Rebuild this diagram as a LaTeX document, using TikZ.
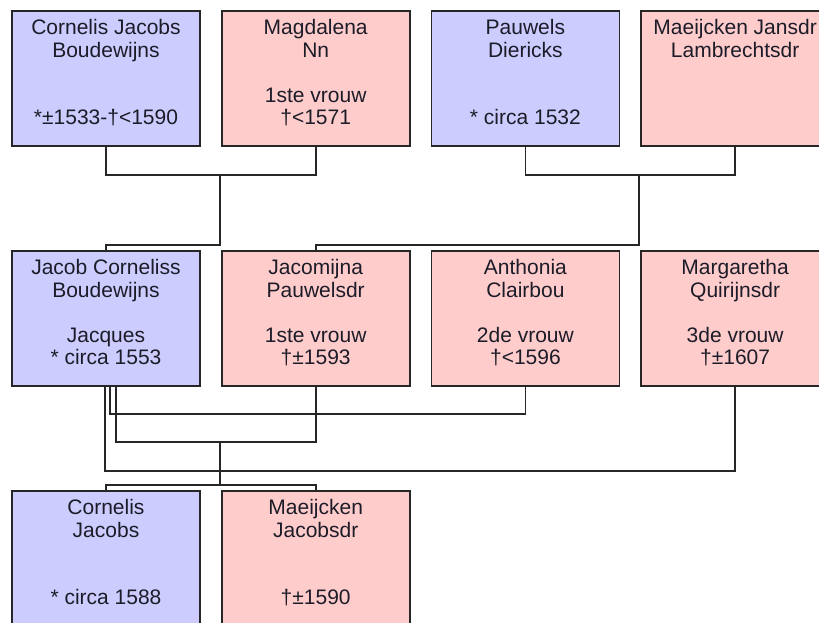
\documentclass[tikz,border=0pt]{standalone}
\usepackage{fontspec}
\setmainfont{Liberation Sans}
\usepackage{xcolor}
\usepackage{tikz}
\usetikzlibrary{positioning,calc}
\definecolor{manblue}{RGB}{204, 204, 255}
\definecolor{womanpink}{RGB}{255, 204, 204}
\definecolor{darktext}{RGB}{28, 28, 40}
\newcommand{\born}{*}
\newcommand{\died}{†}

\begin{document}
\begin{tikzpicture}[
    x=1pt, y=1pt,
    node distance=105pt and 21.7pt,
    box/.style={draw=black!85, line width=1.6pt, outer sep=0pt, minimum width=188pt, minimum height=135pt, inner sep=2pt, align=center, text=darktext, font=\fontsize{21}{22.5}\selectfont, text depth=12.75pt, execute at begin node=\strut, execute at end node=\strut},
    man/.style={box, fill=manblue},
    woman/.style={box, fill=womanpink},
    link/.style={draw=black!85, line width=1.6pt}
]
\useasboundingbox (0,0) rectangle (819,-623);

% Grandparents
\node[man, anchor=north west] (cornelis) at (12,-11) {Cornelis Jacobs\\Boudewijns\\~\\~\\\born{}±1533-\died{}<1590};
\node[woman, right=of cornelis] (magdalena) {Magdalena\\Nn\\~\\1ste vrouw\\\died{}<1571};
\node[man, right=of magdalena] (pauwels) {Pauwels\\Diericks\\~\\~\\\born{} circa 1532};
\node[woman, right=of pauwels] (maeijcken) {Maeijcken Jansdr\\Lambrechtsdr\\~\\~\\~};

% Parents
\node[man, below=of cornelis] (jacob) {Jacob Corneliss\\Boudewijns\\~\\Jacques\\\born{} circa 1553};
\node[woman, below=of magdalena] (jacomijna) {Jacomijna\\Pauwelsdr\\~\\1ste vrouw\\\died{}±1593};
\node[woman, below=of pauwels] (anthonia) {Anthonia\\Clairbou\\~\\2de vrouw\\\died{}<1596};
\node[woman, below=of maeijcken] (margaretha) {Margaretha\\Quirijnsdr\\~\\3de vrouw\\\died{}±1607};

% Children
\node[man, below=of jacob] (cornelisjr) {Cornelis\\Jacobs\\~\\~\\\born{} circa 1588};
\node[woman, below=of jacomijna] (maeijckenjr) {Maeijcken\\Jacobsdr\\~\\~\\\died{}±1590};

% Marriages - grandparents
\draw[link] (cornelis.south) -- ++(0,-29) -| (magdalena.south);
\draw[link] (pauwels.south) -- ++(0,-29) -| (maeijcken.south);

% Descent - grandparents
\coordinate (wed1) at ($(magdalena.south west)+(-2,-29)$);
\coordinate (wed2) at ($(maeijcken.south west)+(-2,-29)$);
\draw[link] (wed1) -- ++(0,-70) -| (jacob.north);
\draw[link] (wed2) -- ++(0,-70) -| (jacomijna.north);

% Marriages - Jacob
\draw[link] ([xshift=10pt]jacob.south) -- ++(0,-56) -| (jacomijna.south);
\draw[link] ([xshift=4pt]jacob.south) -- ++(0,-28) -| (anthonia.south);
\draw[link] ([xshift=-1pt]jacob.south) -- ++(0,-85) -| (margaretha.south);

% Descent - children
\coordinate (wed3) at ($(jacomijna.south west)+(-2,-56)$);
\draw[link] (wed3) -- ++(0,-43);
\draw[link] (cornelisjr.north) -- ++(0,6) -| (maeijckenjr.north);

\end{tikzpicture}
\end{document}
